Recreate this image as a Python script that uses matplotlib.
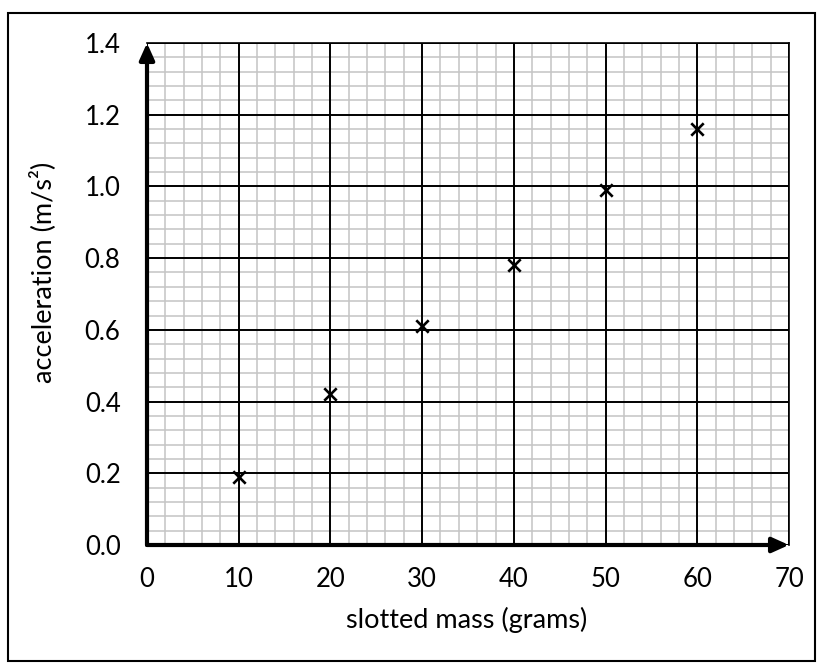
import matplotlib.pyplot as plt
from matplotlib.patches import Rectangle
import numpy as np

# data
mass = [10, 20, 30, 40, 50, 60]
accel = [0.19, 0.42, 0.61, 0.78, 0.99, 1.16]

x_major = np.arange(0, 71, 10)
y_major = np.arange(0, 1.41, 0.2)
x_minor = np.arange(0, 71, 2)
y_minor = np.arange(0, 1.41, 0.04)

plt.rcParams['font.family'] = ['Lato', 'DejaVu Sans']

fig = plt.figure(figsize=(8.21, 6.66), dpi=100)
ax = fig.add_axes([147 / 821, 121 / 666, 642 / 821, 502 / 666])

ax.set_xlim(0, 70)
ax.set_ylim(0, 1.4)
ax.set_xticks(x_major)
ax.set_yticks(y_major)
ax.set_yticklabels(['%.1f' % v for v in y_major])

# graph paper grid: minor first, major on top
for x in x_minor:
    ax.axvline(x, color='#c4c4c4', lw=1.1, zorder=0.5)
for y in y_minor:
    ax.axhline(y, color='#c4c4c4', lw=1.1, zorder=0.5)
for x in x_major:
    ax.axvline(x, color='black', lw=1.4, zorder=1)
for y in y_major:
    ax.axhline(y, color='black', lw=1.4, zorder=1)

ax.tick_params(axis='both', length=0, labelsize=18.5)
ax.tick_params(axis='x', pad=16)
ax.tick_params(axis='y', pad=19)

for s in ['top', 'right']:
    ax.spines[s].set_linewidth(1.2)
for s in ['left', 'bottom']:
    ax.spines[s].set_visible(False)

# axis arrows
ax.annotate('', xy=(0, 1.4), xytext=(0, 0), xycoords='data',
            arrowprops=dict(arrowstyle='-|>,head_length=1.0,head_width=0.45',
                            color='black', lw=3, shrinkA=0, shrinkB=0),
            annotation_clip=False, zorder=4)
ax.annotate('', xy=(70, 0), xytext=(0, 0), xycoords='data',
            arrowprops=dict(arrowstyle='-|>,head_length=1.0,head_width=0.45',
                            color='black', lw=3, shrinkA=0, shrinkB=0),
            annotation_clip=False, zorder=4)

ax.scatter(mass, accel, marker='x', s=80, color='black', linewidths=1.9, zorder=5, clip_on=False)

fig.text(467 / 821, 1 - 620 / 666, 'slotted mass (grams)', fontsize=19.5, ha='center', va='center')
fig.text(43 / 821, 1 - 272 / 666, 'acceleration (m/s²)', fontsize=19.5, ha='center', va='center',
         rotation=90)

fig.patches.append(Rectangle((8 / 821, 5 / 666), 807 / 821, 648 / 666, transform=fig.transFigure,
                             fill=False, edgecolor='black', linewidth=1.5))

fig.savefig('out.png', dpi=100)
